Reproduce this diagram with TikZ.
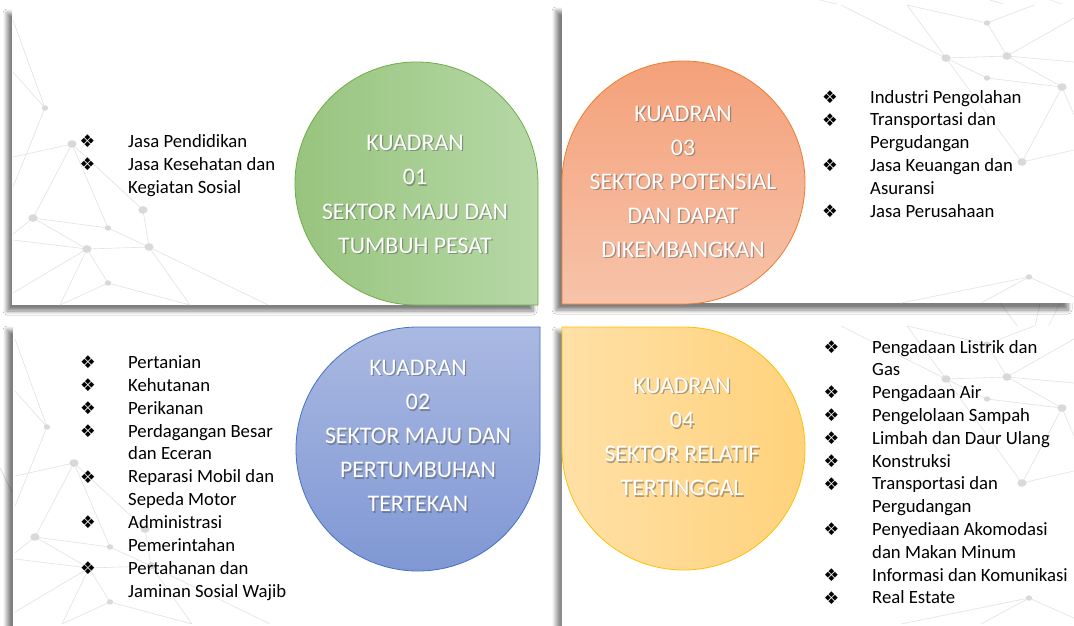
\documentclass[tikz,border=0pt]{standalone}
\usepackage{fontspec}
\setmainfont{Carlito}
\newfontfamily\symf{DejaVu Sans}
\usetikzlibrary{shadows.blur}
\definecolor{grnL}{HTML}{97C47E}
\definecolor{grnR}{HTML}{B6D8A6}
\definecolor{grnE}{HTML}{70AD47}
\definecolor{orgT}{HTML}{F4A17A}
\definecolor{orgB}{HTML}{F7C3AA}
\definecolor{orgE}{HTML}{ED7D31}
\definecolor{bluT}{HTML}{AAB9E1}
\definecolor{bluB}{HTML}{7F97D4}
\definecolor{bluE}{HTML}{4472C4}
\definecolor{yelL}{HTML}{FFE0A6}
\definecolor{yelR}{HTML}{FFD27C}
\definecolor{yelE}{HTML}{FFC000}
\definecolor{netc}{HTML}{E2E2E2}
\definecolor{dotc}{HTML}{D9D9D9}
\tikzset{
  panel/.style={fill=white, draw=none},
  netline/.style={draw=netc, line width=0.6pt},
  qtext/.style={text=white, font=\fontsize{23.8}{28}\selectfont, anchor=base, inner sep=0pt},
  qshadow/.style={text=black!70, opacity=0.45, font=\fontsize{23.8}{28}\selectfont, anchor=base, inner sep=0pt},
  litem/.style={font=\fontsize{18.7}{22}\selectfont, anchor=base west, inner sep=0pt, text=black},
  bulletmark/.style={font=\symf\fontsize{17.5}{20}\selectfont, anchor=center, inner sep=0pt, text=black},
  quad/.style={line width=0.8pt},
}
\newcommand\qline[4]{%
  \node[qshadow] (#1s) at (#2+1.3,-#3-1.6) {#4};
  \node[qtext] (#1) at (#2,-#3) {#4};}
\newcommand\bigdot[2]{\fill[dotc] (#1,-#2) ellipse [x radius=4.6, y radius=3.8];}
\newcommand\smalldot[2]{\fill[dotc] (#1,-#2) ellipse [x radius=3.2, y radius=2.7];}
\newcommand\netleft{%
  \draw[netline] (13,-20) -- (45,-108) -- (13,-72);
  \draw[netline] (45,-108) -- (13,-187);
  \draw[netline] (72,-144) -- (13,-157);
  \draw[netline] (72,-144) -- (33,-218);
  \draw[netline] (72,-144) -- (108,-228);
  \draw[netline] (72,-144) -- (143,-210);
  \draw[netline] (33,-218) -- (108,-228);
  \draw[netline] (33,-218) -- (87,-249);
  \draw[netline] (33,-218) -- (13,-234);
  \draw[netline] (13,-240) -- (87,-249);
  \draw[netline] (108,-228) -- (149,-247);
  \draw[netline] (143,-210) -- (149,-247);
  \draw[netline] (87,-249) -- (149,-247);
  \draw[netline] (87,-249) -- (108,-283);
  \draw[netline] (87,-249) -- (60,-305);
  \draw[netline] (87,-249) -- (13,-293);
  \draw[netline] (108,-283) -- (190,-305);
  \draw[netline] (149,-247) -- (190,-305);
  \draw[netline] (149,-247) -- (268,-305);
  \draw[netline] (108,-283) -- (60,-305);
  \smalldot{45}{108}
  \bigdot{72}{144}
  \bigdot{33}{218}
  \smalldot{108}{228}
  \bigdot{143}{210}
  \bigdot{87}{249}
  \bigdot{149}{247}
  \smalldot{108}{283}}
\newcommand\netright{%
  \draw[netline] (841,-5) -- (946,-58);
  \draw[netline] (907,-5) -- (946,-58);
  \draw[netline] (907,-5) -- (987,-23);
  \draw[netline] (987,-23) -- (1007,-56);
  \draw[netline] (987,-23) -- (1034,-5);
  \draw[netline] (946,-58) -- (1007,-56);
  \draw[netline] (946,-58) -- (987,-78);
  \draw[netline] (946,-58) -- (1022,-162);
  \draw[netline] (1007,-56) -- (1062,-87);
  \draw[netline] (1007,-56) -- (1074,-18);
  \draw[netline] (1007,-56) -- (1074,-62);
  \draw[netline] (987,-78) -- (1062,-87);
  \draw[netline] (1062,-87) -- (1022,-162);
  \draw[netline] (1062,-87) -- (1074,-115);
  \draw[netline] (1022,-162) -- (1074,-150);
  \draw[netline] (901,-303) -- (1029,-277) -- (1074,-297);
  \draw[netline] (981,-303) -- (1029,-277);
  \smalldot{987}{23}
  \bigdot{946}{58}
  \bigdot{1007}{56}
  \smalldot{987}{78}
  \bigdot{1062}{87}
  \bigdot{1022}{162}
  \smalldot{1029}{277}}
\begin{document}
\begin{tikzpicture}[x=1pt,y=1pt]
\useasboundingbox (0,0) rectangle (1074,-625);
\fill[white] (0,0) rectangle (1074,-625);
% background pattern in gaps
\draw[netline] (820,0) -- (845,-6);
\draw[netline] (990,0) -- (1010,-6);
\draw[netline] (1050,0) -- (1074,-8);
\draw[netline] (1000,-303) -- (1018,-327);
\draw[netline] (1060,-303) -- (1048,-327);
\draw[netline] (1040,-303) -- (1035,-327);
\draw[netline, line width=1pt] (0,-468) -- (12,-492);
% panels
\path[panel, blur shadow={shadow xshift=-5pt, shadow yshift=-6pt, shadow blur radius=4pt, shadow blur steps=8, shadow opacity=50}] (12,-7) rectangle (538,-305);
\path[panel, blur shadow={shadow xshift=-6pt, shadow yshift=-7pt, shadow blur radius=4pt, shadow blur steps=8, shadow opacity=50}] (562,-4) rectangle (1074,-303);
\path[panel, blur shadow={shadow xshift=-6pt, shadow yshift=-5pt, shadow blur radius=4pt, shadow blur steps=8, shadow opacity=50}] (13,-325) rectangle (541,-632);
\path[panel, blur shadow={shadow xshift=-6pt, shadow yshift=-5pt, shadow blur radius=4pt, shadow blur steps=8, shadow opacity=45}] (562,-326) rectangle (1080,-632);
% network patterns
\netleft
\begin{scope}[shift={(2,-319)}]\netleft\end{scope}
\netright
\begin{scope}[shift={(0,-321)}]\netright\end{scope}
% quadrant shapes
\path[quad, draw=grnE, left color=grnL, right color=grnR]
  (538,-183.5) -- (538,-305) -- (416.5,-305) arc[start angle=270, end angle=0, radius=121.5] -- cycle;
\path[quad, draw=orgE, top color=orgT, bottom color=orgB]
  (562,-182.5) -- (562,-304) -- (683.5,-304) arc[start angle=-90, end angle=180, radius=121.5] -- cycle;
\path[quad, draw=bluE, top color=bluT, bottom color=bluB]
  (418,-327) -- (540,-327) -- (540,-449) arc[start angle=0, end angle=-270, radius=122] -- cycle;
\path[quad, draw=yelE, left color=yelL, right color=yelR]
  (683.5,-327) -- (562,-327) -- (562,-448.5) arc[start angle=180, end angle=450, radius=121.5] -- cycle;
% quadrant texts
\qline{g1}{415}{150}{KUADRAN}
\qline{g2}{415}{184.5}{01}
\qline{g3}{415}{219}{SEKTOR MAJU DAN}
\qline{g4}{415}{253}{TUMBUH PESAT}
\qline{o1}{683}{121}{KUADRAN}
\qline{o2}{683}{155}{03}
\qline{o3}{683}{189}{SEKTOR POTENSIAL}
\qline{o4}{683}{223}{DAN DAPAT}
\qline{o5}{683}{257}{DIKEMBANGKAN}
\qline{b1}{418}{375}{KUADRAN}
\qline{b2}{418}{409.5}{02}
\qline{b3}{418}{443.5}{SEKTOR MAJU DAN}
\qline{b4}{418}{477.5}{PERTUMBUHAN}
\qline{b5}{418}{511.5}{TERTEKAN}
\qline{y1}{682}{393}{KUADRAN}
\qline{y2}{682}{427.5}{04}
\qline{y3}{682}{461.5}{SEKTOR RELATIF}
\qline{y4}{682}{495.5}{TERTINGGAL}
% lists
\foreach \y/\t/\b [count=\i] in {147/Jasa Pendidikan/1, 170/Jasa Kesehatan dan/1, 193/Kegiatan Sosial/0}{
  \node[litem] (tl\i) at (128,-\y) {\t};
  \ifnum\b=1 \node[bulletmark] (tlb\i) at (87.5,-\y+6) {❖};\fi
}
\foreach \y/\t/\b [count=\i] in {368.5/Pertanian/1, 391.4/Kehutanan/1, 414.2/Perikanan/1, 437.1/Perdagangan Besar/1, 459.9/dan Eceran/0, 482.8/Reparasi Mobil dan/1, 505.6/Sepeda Motor/0, 528.5/Administrasi/1, 551.3/Pemerintahan/0, 574.2/Pertahanan dan/1, 597/Jaminan Sosial Wajib/0}{
  \node[litem] (bl\i) at (128,-\y) {\t};
  \ifnum\b=1 \node[bulletmark] (blb\i) at (88,-\y+6) {❖};\fi
}
\foreach \y/\t/\b [count=\i] in {103/Industri Pengolahan/1, 125.8/Transportasi dan/1, 148.6/Pergudangan/0, 171.4/Jasa Keuangan dan/1, 194.2/Asuransi/0, 217/Jasa Perusahaan/1}{
  \node[litem] (tr\i) at (870,-\y) {\t};
  \ifnum\b=1 \node[bulletmark] (trb\i) at (830,-\y+6) {❖};\fi
}
\foreach \y/\t/\b [count=\i] in {353/Pengadaan Listrik dan/1, 375.8/Gas/0, 398.6/Pengadaan Air/1, 421.4/Pengelolaan Sampah/1, 444.2/Limbah dan Daur Ulang/1, 467/Konstruksi/1, 489.8/Transportasi dan/1, 512.6/Pergudangan/0, 535.4/Penyediaan Akomodasi/1, 558.2/dan Makan Minum/0, 581/Informasi dan Komunikasi/1, 603.8/Real Estate/1}{
  \node[litem] (br\i) at (872,-\y) {\t};
  \ifnum\b=1 \node[bulletmark] (brb\i) at (831.5,-\y+6) {❖};\fi
}
\end{tikzpicture}
\end{document}
